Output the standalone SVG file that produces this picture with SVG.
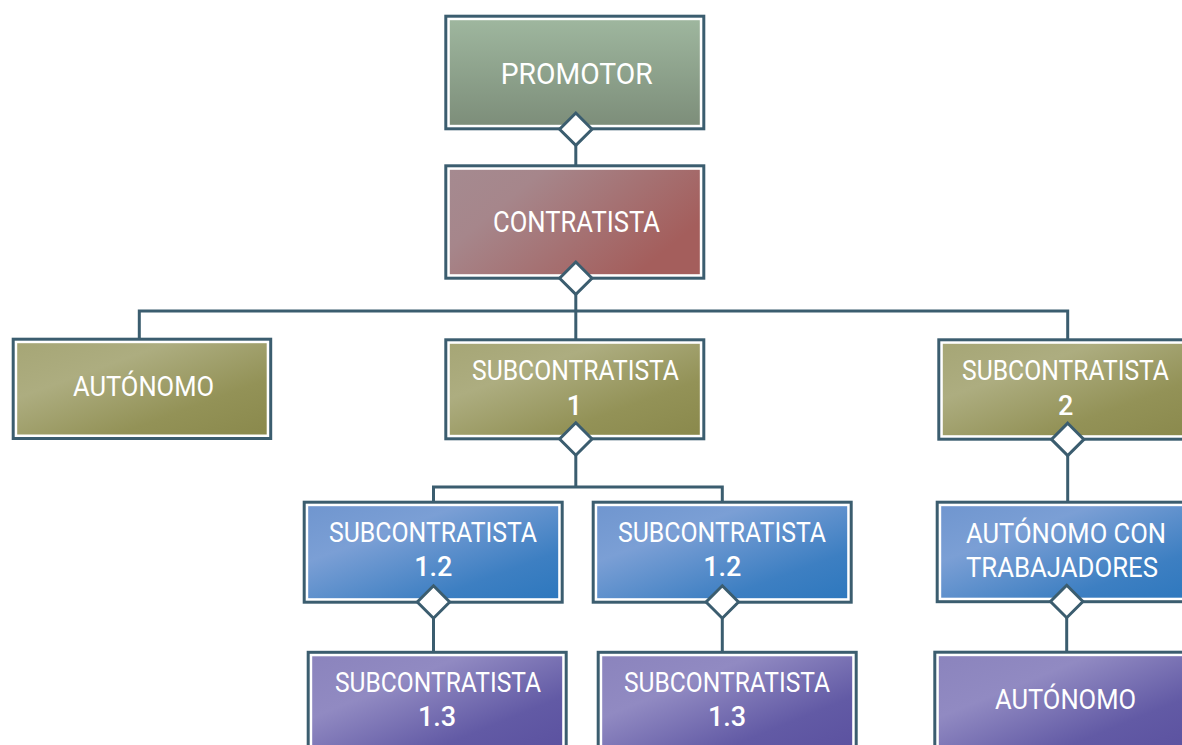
<svg xmlns="http://www.w3.org/2000/svg" width="1182" height="745" viewBox="0 0 1182 745">
<style>
.frame{fill:#ffffff;stroke:#3b5d6f;stroke-width:3}
.dia{fill:#ffffff;stroke:#3b5d6f;stroke-width:3;stroke-linejoin:miter}
.conn{fill:none;stroke:#3b5d6f;stroke-width:3}
text{font-family:Roboto,"Liberation Sans",sans-serif;fill:#ffffff;text-anchor:middle;font-size:28.5px}
.big{font-size:30px}
.num{font-weight:500;font-size:27px}
</style>
<defs>
<linearGradient id="gSage" x1="0" y1="0" x2="0" y2="1"><stop offset="0" stop-color="#9eb69e"/><stop offset="1" stop-color="#7d8e7a"/></linearGradient>
<linearGradient id="gMauve" x1="0" y1="0" x2="1" y2="0.5"><stop offset="0" stop-color="#a58a90"/><stop offset="0.3" stop-color="#a6868b"/><stop offset="1" stop-color="#a45e5c"/></linearGradient>
<linearGradient id="gOlive" x1="0" y1="0" x2="1" y2="1"><stop offset="0" stop-color="#a6a676"/><stop offset="0.3" stop-color="#adad80"/><stop offset="0.7" stop-color="#939257"/><stop offset="1" stop-color="#8a894c"/></linearGradient>
<linearGradient id="gBlue" x1="0" y1="0" x2="1" y2="1"><stop offset="0" stop-color="#7096cf"/><stop offset="0.3" stop-color="#7b9fd5"/><stop offset="0.75" stop-color="#3d7fc2"/><stop offset="1" stop-color="#2e78be"/></linearGradient>
<linearGradient id="gPurple" x1="0" y1="0" x2="1" y2="1"><stop offset="0" stop-color="#8b84bd"/><stop offset="0.3" stop-color="#918ac2"/><stop offset="0.7" stop-color="#625aa5"/><stop offset="1" stop-color="#5a509f"/></linearGradient>
</defs>

<g id="connectors">
<line class="conn" x1="575.8" y1="145" x2="575.8" y2="166"/>
<polyline class="conn" points="139.3,339 139.3,311 1067.7,311 1067.7,339"/>
<line class="conn" x1="575.8" y1="294" x2="575.8" y2="339"/>
<line class="conn" x1="575.8" y1="455" x2="575.8" y2="487"/>
<polyline class="conn" points="433.5,502 433.5,487 722.3,487 722.3,502"/>
<line class="conn" x1="1067.7" y1="455" x2="1067.7" y2="501"/>
<line class="conn" x1="433.5" y1="618" x2="433.5" y2="653"/>
<line class="conn" x1="722.3" y1="618" x2="722.3" y2="653"/>
<line class="conn" x1="1066.7" y1="617" x2="1066.7" y2="652"/>
</g>

<g id="promotor">
<rect class="frame" x="445.8" y="16.2" width="258" height="112.6"/>
<rect x="449.8" y="20.2" width="250" height="104.6" fill="url(#gSage)"/>
<text class="big" x="576.7" y="84" textLength="152" lengthAdjust="spacingAndGlyphs">PROMOTOR</text>
<path class="dia" d="M575.8,113 L592,129.2 L575.8,145.4 L559.6,129.2 Z"/>
</g>

<g id="contratista">
<rect class="frame" x="445.8" y="165.8" width="258" height="112.4"/>
<rect x="449.8" y="169.8" width="250" height="104.4" fill="url(#gMauve)"/>
<text class="big" x="576.5" y="232" textLength="167" lengthAdjust="spacingAndGlyphs">CONTRATISTA</text>
<path class="dia" d="M575.8,262 L592,278.2 L575.8,294.4 L559.6,278.2 Z"/>
</g>

<g id="autonomo1">
<rect class="frame" x="13.2" y="339.2" width="257.5" height="99.3"/>
<rect x="17.2" y="343.2" width="249.5" height="91.3" fill="url(#gOlive)"/>
<text x="143.5" y="396" textLength="141" lengthAdjust="spacingAndGlyphs">AUTÓNOMO</text>
</g>

<g id="subcontratista1">
<rect class="frame" x="445.8" y="339.8" width="258" height="99"/>
<rect x="449.8" y="343.8" width="250" height="91" fill="url(#gOlive)"/>
<text x="575.5" y="380" textLength="207" lengthAdjust="spacingAndGlyphs">SUBCONTRATISTA</text>
<text class="num" x="574.5" y="415">1</text>
<path class="dia" d="M575.8,422.8 L592,439 L575.8,455.2 L559.6,439 Z"/>
</g>

<g id="subcontratista2">
<rect class="frame" x="938.8" y="339.8" width="258" height="99.4"/>
<rect x="942.8" y="343.8" width="250" height="91.4" fill="url(#gOlive)"/>
<text x="1065.5" y="380" textLength="207" lengthAdjust="spacingAndGlyphs">SUBCONTRATISTA</text>
<text class="num" x="1065.7" y="415">2</text>
<path class="dia" d="M1067.7,423.2 L1083.9,439.4 L1067.7,455.6 L1051.5,439.4 Z"/>
</g>

<g id="subcontratista12a">
<rect class="frame" x="304.2" y="502.2" width="258" height="100"/>
<rect x="308.2" y="506.2" width="250" height="92" fill="url(#gBlue)"/>
<text x="433" y="541.7" textLength="208" lengthAdjust="spacingAndGlyphs">SUBCONTRATISTA</text>
<text class="num" x="433.3" y="576">1.2</text>
<path class="dia" d="M433.5,585.8 L449.7,602 L433.5,618.2 L417.3,602 Z"/>
</g>

<g id="subcontratista12b">
<rect class="frame" x="593.2" y="502.2" width="258" height="100"/>
<rect x="597.2" y="506.2" width="250" height="92" fill="url(#gBlue)"/>
<text x="722" y="541.7" textLength="208" lengthAdjust="spacingAndGlyphs">SUBCONTRATISTA</text>
<text class="num" x="722.3" y="576">1.2</text>
<path class="dia" d="M722.3,585.8 L738.5,602 L722.3,618.2 L706.1,602 Z"/>
</g>

<g id="autonomoTrab">
<rect class="frame" x="937.2" y="502.2" width="258" height="99.5"/>
<rect x="941.2" y="506.2" width="250" height="91.5" fill="url(#gBlue)"/>
<text x="1066" y="543.3" textLength="200" lengthAdjust="spacingAndGlyphs">AUTÓNOMO CON</text>
<text x="1062" y="576.7" textLength="192" lengthAdjust="spacingAndGlyphs">TRABAJADORES</text>
<path class="dia" d="M1066.7,585.3 L1082.9,601.5 L1066.7,617.7 L1050.5,601.5 Z"/>
</g>

<g id="subcontratista13a">
<rect class="frame" x="308.2" y="652.3" width="258" height="110"/>
<rect x="312.2" y="656.3" width="250" height="102" fill="url(#gPurple)"/>
<text x="438" y="691.7" textLength="206" lengthAdjust="spacingAndGlyphs">SUBCONTRATISTA</text>
<text class="num" x="437" y="726">1.3</text>
</g>

<g id="subcontratista13b">
<rect class="frame" x="598.2" y="652.3" width="258" height="110"/>
<rect x="602.2" y="656.3" width="250" height="102" fill="url(#gPurple)"/>
<text x="727" y="691.7" textLength="206" lengthAdjust="spacingAndGlyphs">SUBCONTRATISTA</text>
<text class="num" x="727" y="726">1.3</text>
</g>

<g id="autonomo2">
<rect class="frame" x="934.8" y="652.2" width="258" height="110"/>
<rect x="938.8" y="656.2" width="250" height="102" fill="url(#gPurple)"/>
<text x="1065.5" y="709" textLength="141" lengthAdjust="spacingAndGlyphs">AUTÓNOMO</text>
</g>
</svg>
